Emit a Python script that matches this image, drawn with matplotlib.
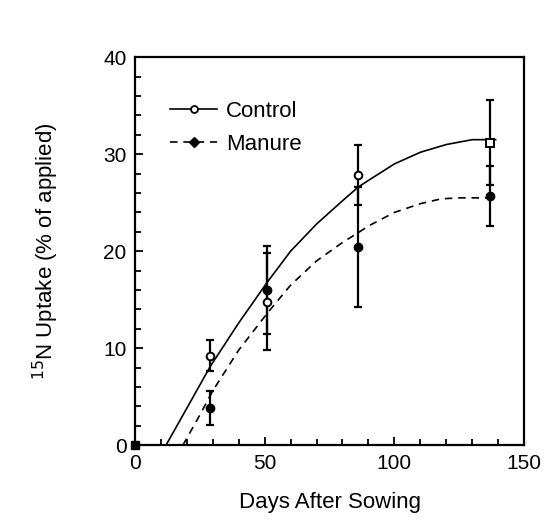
import numpy as np
import matplotlib
matplotlib.use("Agg")
import matplotlib.pyplot as plt
from matplotlib.lines import Line2D
from matplotlib.ticker import MultipleLocator

plt.rcParams['font.family'] = ['Liberation Sans', 'DejaVu Sans']

# sampling days and 15N uptake (% of applied)
days = [0, 29, 51, 86, 137]
control = [0, 9.2, 14.8, 27.9, 31.2]
control_err = [0, 1.6, 5.0, 3.1, 4.4]
manure = [0, 3.8, 16.0, 20.4, 25.7]
manure_err = [0, 1.75, 4.5, 6.2, 3.1]

# fitted response curves
control_fit_x = [12, 20, 29, 40, 51, 60, 70, 80, 86, 90, 100, 110, 120, 130, 139]
control_fit_y = [0, 3.8, 8.1, 12.6, 16.8, 20.0, 22.8, 25.2, 26.6, 27.3, 29.0, 30.2, 31.0, 31.5, 31.5]
manure_fit_x = [18.5, 25, 30, 40, 51, 60, 70, 80, 86, 90, 100, 110, 118, 125, 137]
manure_fit_y = [0, 3.1, 5.6, 9.8, 13.6, 16.5, 19.0, 20.9, 21.9, 22.6, 24.0, 24.9, 25.4, 25.5, 25.5]

fig = plt.figure(figsize=(5.46, 5.25), dpi=100)
ax = fig.add_axes([0.247, 0.152, 0.713, 0.739])

ax.plot(control_fit_x, control_fit_y, color='black', lw=1.2, solid_joinstyle='round')
ax.plot(manure_fit_x, manure_fit_y, color='black', lw=1.2, linestyle=(0, (4.5, 3.5)))

ebkw = dict(fmt='none', ecolor='black', elinewidth=1.6, capsize=2.8, capthick=1.6)
ax.errorbar(days[1:], control[1:], yerr=control_err[1:], **ebkw)
ax.errorbar(days[1:], manure[1:], yerr=manure_err[1:], **ebkw)

ax.plot(days[1:4], control[1:4], 'o', ms=5.5, mfc='white', mec='black', mew=1.4)
ax.plot(days[4:], control[4:], 's', ms=5.5, mfc='white', mec='black', mew=1.4)
ax.plot(days[1:], manure[1:], 'o', ms=6, mfc='black', mec='black')
ax.plot(days[0], manure[0], 's', ms=6, color='black', clip_on=False, zorder=5)

ax.set_xlim(0, 150)
ax.set_ylim(0, 40)
ax.xaxis.set_major_locator(MultipleLocator(50))
ax.xaxis.set_minor_locator(MultipleLocator(10))
ax.yaxis.set_major_locator(MultipleLocator(10))
ax.yaxis.set_minor_locator(MultipleLocator(2))
ax.tick_params(which='both', direction='in', top=False, right=False,
               width=1.3, labelsize=15, pad=6)
ax.tick_params(which='major', length=6)
ax.tick_params(which='minor', length=4)
for s in ax.spines.values():
    s.set_linewidth(1.6)

ax.set_xlabel('Days After Sowing', fontsize=16, labelpad=14)
ax.set_ylabel(r'$^{15}$N Uptake (% of applied)', fontsize=16, labelpad=30)

handles = [
    Line2D([], [], color='black', lw=1.2, marker='o', ms=5, mfc='white', mec='black', mew=1.3),
    Line2D([], [], color='black', lw=1.2, linestyle=(0, (4.5, 3.5)), marker='D', ms=5,
           mfc='black', mec='black'),
]
ax.legend(handles, ['Control', 'Manure'], loc='upper left', bbox_to_anchor=(0.04, 0.94),
          frameon=False, fontsize=16, handlelength=2.1, handletextpad=0.4,
          labelspacing=0.55)

fig.savefig('out.png', dpi=100)
